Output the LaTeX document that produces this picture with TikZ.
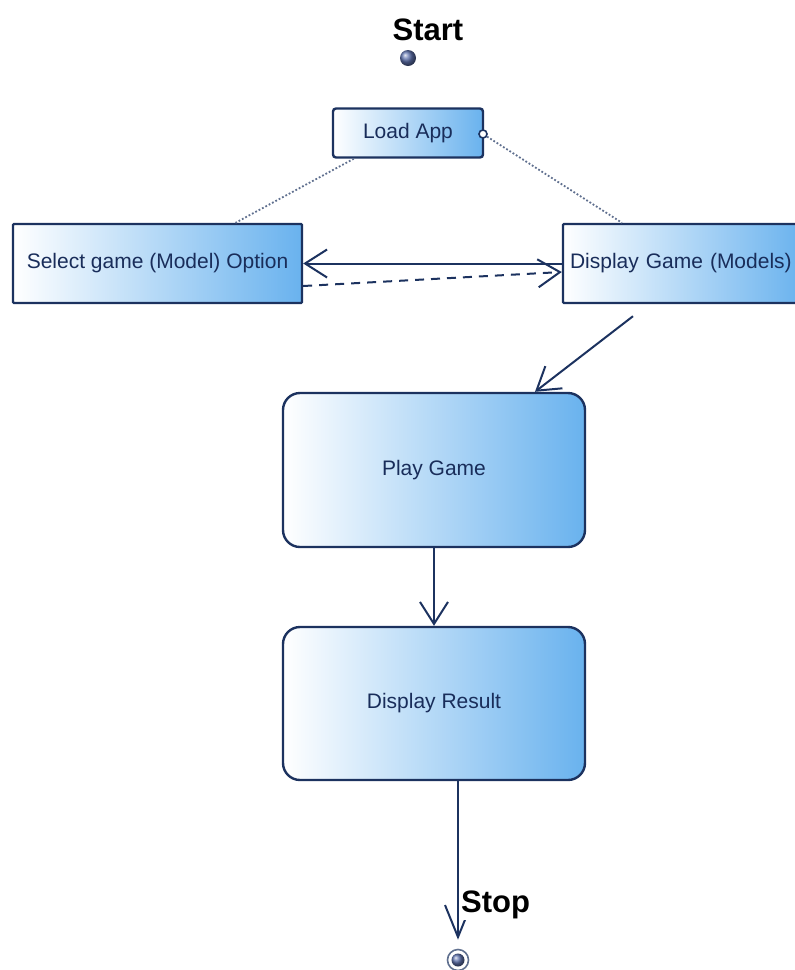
\documentclass[tikz,border=0pt]{standalone}
\usepackage{fontspec}
\setmainfont{Liberation Sans}
\usetikzlibrary{arrows.meta}
\definecolor{navy}{RGB}{28,50,95}
\definecolor{txt}{RGB}{25,45,90}
\definecolor{fillb}{RGB}{105,178,238}
\definecolor{ballc}{RGB}{95,115,175}
\begin{document}
\begin{tikzpicture}[x=1pt,y=-1pt,
  box/.style={draw=navy, line width=2.4pt, left color=white, right color=fillb,
    font=\fontsize{21}{24}\selectfont, text=txt, inner sep=0pt},
  bar/.style={-{Straight Barb[length=22pt,width=28pt,line width=2pt]}, draw=navy, line width=2pt},
  dots/.style={draw=navy!70, line width=1.8pt, dotted},
  lbl/.style={font=\bfseries\fontsize{31}{34}\selectfont, text=black, inner sep=0pt}]
\useasboundingbox (0,0) rectangle (795,970);
\clip (0,0) rectangle (795,970);

\node[lbl] (startl) at (428,30) {Start};
\node[circle, shading=ball, ball color=ballc, minimum size=16pt, inner sep=0pt] (start) at (408,58) {};

\node[box, rounded corners=3pt, minimum width=150pt, minimum height=49pt] (load) at (408,133) {Load App};
\node[circle, draw=navy, line width=1.6pt, fill=white, minimum size=8pt, inner sep=0pt] (lc) at (483,134) {};

\node[box, rounded corners=1pt, minimum width=289pt, minimum height=79pt] (sel) at (157.5,263.5) {Select game (Model) Option};
\node[box, rounded corners=1pt, minimum width=240pt, minimum height=79pt, text width=226pt, inner xsep=7pt, align=left] (disp) at (683,263.5) {Display Game (Models)};

\node[box, rounded corners=17pt, minimum width=302pt, minimum height=154pt] (play) at (434,470) {Play Game};
\node[box, rounded corners=17pt, minimum width=302pt, minimum height=153pt] (res) at (434,703.5) {Display Result};

\node[circle, draw=navy!70, line width=1.6pt, fill=white, minimum size=21pt, inner sep=0pt] (stop) at (458,960) {};
\node[circle, shading=ball, ball color=ballc, minimum size=13pt, inner sep=0pt] (stopin) at (stop.center) {};

% connectors
\draw[dots] ([xshift=22pt]load.south west) -- ([xshift=78pt]sel.north);
\draw[dots] (lc) -- ([xshift=-61pt]disp.north);
\draw[bar] (disp.west) -- (sel.east);
\draw[bar, dashed, dash pattern=on 9pt off 7pt] ([yshift=-22.5pt]sel.east) -- ([yshift=-8.5pt]disp.west);
\draw[bar] ([xshift=-50pt,yshift=-12pt]disp.south) -- ([xshift=101pt]play.north);
\draw[bar] (play.south) -- (res.north);
\draw[bar, -{Straight Barb[length=32pt,width=26pt,line width=2pt]}, shorten >=9pt] ([xshift=24pt]res.south) -- (stop.north);

\node[lbl, fill=white, anchor=west, inner sep=1pt] (stopl) at (460,905) {Stop};
\end{tikzpicture}
\end{document}
